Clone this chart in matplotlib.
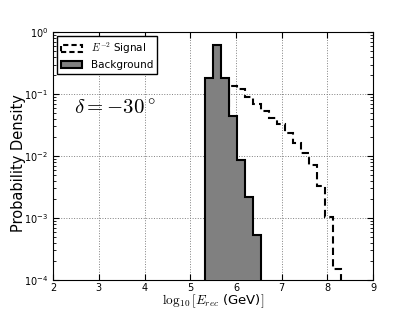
import numpy as np
import matplotlib
matplotlib.use("Agg")
import matplotlib.pyplot as plt
from matplotlib.patches import Patch

plt.rcParams['mathtext.fontset'] = 'cm'
plt.rcParams['font.family'] = 'DejaVu Sans'
plt.rcParams['xtick.direction'] = 'in'
plt.rcParams['ytick.direction'] = 'in'

# background histogram (log10 E_rec bins, width 0.175)
bg_edges = [5.325, 5.5, 5.675, 5.85, 6.025, 6.2, 6.375, 6.55]
bg_vals = [0.179, 0.62, 0.179, 0.044, 0.0086, 0.00216, 0.00053]

# E^-2 signal histogram
sig_edges = [5.85, 6.025, 6.2, 6.375, 6.55, 6.725, 6.9, 7.075, 7.25,
             7.425, 7.6, 7.775, 7.95, 8.125, 8.3]
sig_vals = [0.136, 0.119, 0.0895, 0.0698, 0.053, 0.0415, 0.0324, 0.0232,
            0.016, 0.011, 0.00716, 0.00328, 0.00103, 0.000149]

fig = plt.figure(figsize=(4.15, 3.12), dpi=100)
ax = fig.add_axes([0.128, 0.103, 0.771, 0.794])

ax.stairs(sig_vals, sig_edges, baseline=1e-6, fill=False, zorder=2,
          edgecolor='k', linewidth=1.5, linestyle=(0, (3.5, 2)))
ax.stairs(bg_vals, bg_edges, baseline=1e-6, fill=True, zorder=3,
          facecolor='gray', edgecolor='k', linewidth=1.5)

ax.set_yscale('log')
ax.set_xlim(2, 9)
ax.set_ylim(1e-4, 1)
ax.grid(True, which='major', color='0.5', linestyle=':', linewidth=0.7)
ax.tick_params(which='both', top=True, right=True, labelsize=7)
ax.tick_params(axis='x', pad=2)
ax.tick_params(which='major', length=4)
ax.tick_params(which='minor', length=2)

ax.set_xlabel(r'$\log_{10}[E_{rec}$ (GeV)$]$', fontsize=9.5)
ax.xaxis.set_label_coords(0.5, -0.05)
ax.set_ylabel('Probability Density', fontsize=10.5)
ax.yaxis.set_label_coords(-0.085, 0.47)

ax.text(2.45, 0.058, r'$\delta = -30^\circ$', fontsize=15, va='center')

handles = [Patch(facecolor='white', edgecolor='k', linewidth=1.5, linestyle=(0, (2.5, 1.5))),
           Patch(facecolor='gray', edgecolor='k', linewidth=1.5)]
leg = ax.legend(handles, [r'$E^{-2}$ Signal', 'Background'], loc='upper left',
                fontsize=7.5, fancybox=False, framealpha=1, borderaxespad=0.4,
                handlelength=2, handleheight=0.6, labelspacing=0.4)
leg.get_frame().set_edgecolor('k')
leg.set_zorder(5)

fig.savefig('out.png', dpi=100)
